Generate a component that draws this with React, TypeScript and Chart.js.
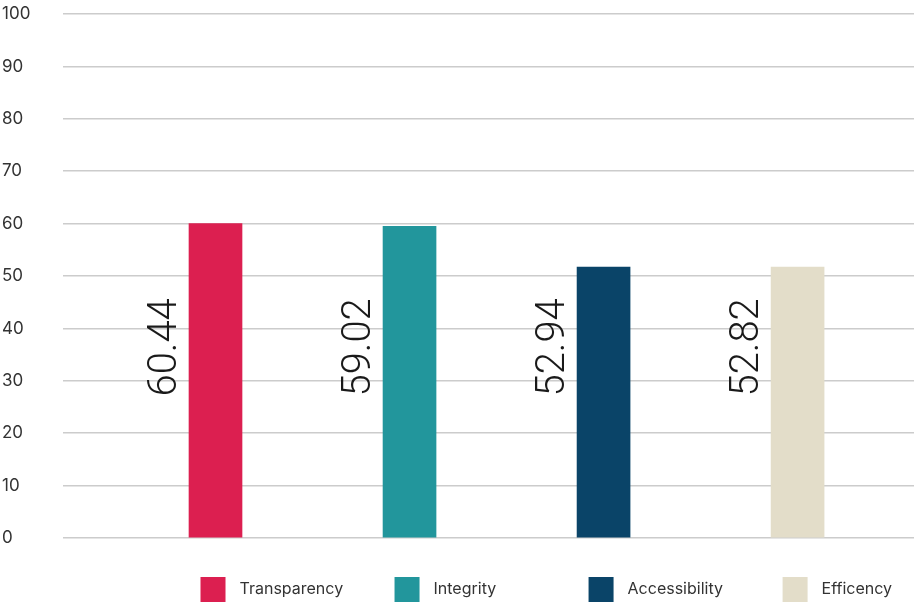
import React, { useEffect, useRef } from "react";
import { Chart, registerables } from "chart.js";

Chart.register(...registerables);

const categories = ["Transparency", "Integrity", "Accessibility", "Efficency"];
const barValues = [60.0, 59.5, 51.7, 51.7];
const valueLabels = ["60.44", "59.02", "52.94", "52.82"];
const colors = ["#DC1F50", "#22969C", "#0A4468", "#E3DDC9"];
const yTicks = [0, 10, 20, 30, 40, 50, 60, 70, 80, 90, 100];

const valueLabelPlugin = {
  id: "valueLabels",
  afterDatasetsDraw(chart: any) {
    const { ctx, scales } = chart;
    const meta = chart.getDatasetMeta(0);
    ctx.save();
    ctx.fillStyle = "#1a1a1a";
    ctx.font = "300 40px Roboto";
    ctx.textAlign = "left";
    ctx.textBaseline = "alphabetic";
    meta.data.forEach((bar: any, i: number) => {
      const left = bar.x - bar.width / 2;
      const y = scales.y.getPixelForValue(27.0);
      ctx.save();
      ctx.translate(left - 13, y);
      ctx.rotate(-Math.PI / 2);
      ctx.fillText(valueLabels[i], 0, 0);
      ctx.restore();
    });
    ctx.restore();
  },
};

const legendPlugin = {
  id: "bottomLegend",
  afterDraw(chart: any) {
    const { ctx, scales } = chart;
    ctx.save();
    ctx.font = "16px Inter";
    ctx.textAlign = "left";
    ctx.textBaseline = "middle";
    const top = chart.chartArea.bottom + 39;
    categories.forEach((c, i) => {
      const cx = scales.x.getPixelForValue(i);
      const bx = cx - 15;
      ctx.fillStyle = colors[i];
      ctx.fillRect(bx, top, 25, 25);
      ctx.fillStyle = "#333333";
      ctx.fillText(c, bx + 39, top + 12.5);
    });
    ctx.restore();
  },
};

export default function App() {
  const ref = useRef<HTMLCanvasElement>(null);
  useEffect(() => {
    if (!ref.current) return;
    const chart = new Chart(ref.current, {
      type: "bar",
      data: {
        datasets: [
          {
            data: barValues.map((v, i) => ({ x: i, y: v })),
            backgroundColor: colors,
            barThickness: 53,
          },
        ],
      },
      options: {
        animation: false,
        responsive: false,
        maintainAspectRatio: false,
        layout: { padding: { left: 2, top: 14, right: 0, bottom: 65 } },
        plugins: { legend: { display: false }, tooltip: { enabled: false } },
        scales: {
          x: {
            type: "linear",
            min: -0.786,
            max: 3.6,
            offset: false,
            display: false,
          },
          y: {
            min: 0,
            max: 100,
            afterBuildTicks: (s: any) => {
              s.ticks = yTicks.map((v) => ({ value: v }));
            },
            afterFit: (s: any) => {
              s.width = 61;
            },
            border: { display: false },
            grid: { color: "#cccccc", lineWidth: 1.5, drawTicks: false },
            ticks: {
              crossAlign: "far",
              padding: 0,
              color: "#333333",
              font: { family: "Inter", size: 17 },
            },
          },
        },
      },
      plugins: [valueLabelPlugin, legendPlugin],
    });
    return () => chart.destroy();
  }, []);
  return (
    <div style={{ position: "fixed", left: 0, top: 0, width: 914, height: 603, background: "#fff" }}>
      <canvas ref={ref} width={914} height={603} style={{ width: 914, height: 603 }} />
    </div>
  );
}
